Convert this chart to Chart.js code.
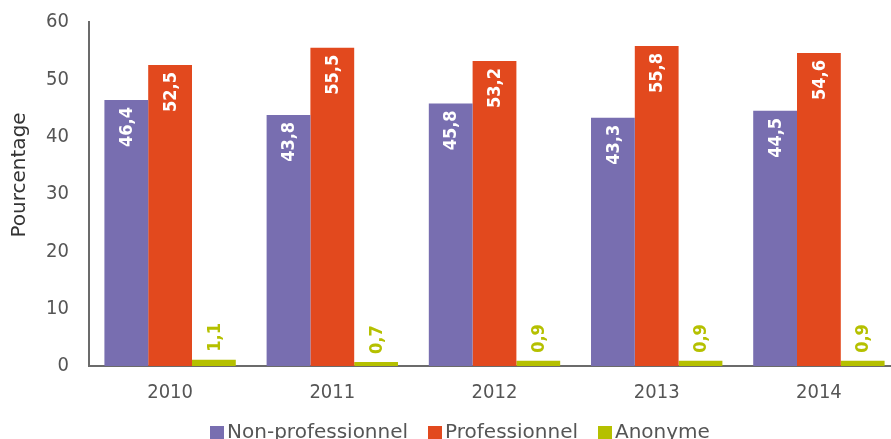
<!DOCTYPE html>
<html>
<head>
<meta charset="utf-8">
<script src="https://cdn.jsdelivr.net/npm/chart.js@4"></script>
<style>
  html, body { margin: 0; padding: 0; background: #fff; overflow: hidden; }
  #wrap { position: relative; width: 900px; height: 439px; }
  #legende {
    position: absolute; left: 0; top: 419px; width: 920px;
    display: flex; justify-content: center;
    font-family: 'DejaVu Sans', sans-serif; font-size: 20px; color: #555;
  }
  #legende span.item { display: flex; align-items: center; margin: 0 10px; white-space: nowrap; }
  #legende span.carre { display: inline-block; width: 14px; height: 14px; margin-right: 3px; margin-top: 3px; }
</style>
</head>
<body>
<div id="wrap">
  <canvas id="chart" width="900" height="439"></canvas>
  <div id="legende"></div>
</div>
<script>
const annees = ['2010', '2011', '2012', '2013', '2014'];
const nonPro = [46.4, 43.8, 45.8, 43.3, 44.5];
const pro = [52.5, 55.5, 53.2, 55.8, 54.6];
const anonyme = [1.1, 0.7, 0.9, 0.9, 0.9];
const ticksY = [0, 10, 20, 30, 40, 50, 60];

const police = "'DejaVu Sans Condensed', 'DejaVu Sans', sans-serif";

// étiquettes verticales sur les barres
const etiquettes = {
  id: 'etiquettes',
  afterDatasetsDraw(chart) {
    const ctx = chart.ctx;
    chart.data.datasets.forEach((ds, i) => {
      const meta = chart.getDatasetMeta(i);
      meta.data.forEach((bar, j) => {
        const txt = ds.data[j].toFixed(1).replace('.', ',');
        ctx.save();
        ctx.translate(bar.x, bar.y);
        ctx.rotate(-Math.PI / 2);
        ctx.font = 'bold 18px ' + police;
        ctx.textBaseline = 'middle';
        if (i < 2) {
          ctx.fillStyle = '#ffffff';
          ctx.textAlign = 'right';
          ctx.fillText(txt, -7, 1);
        } else {
          ctx.fillStyle = ds.backgroundColor;
          ctx.textAlign = 'left';
          ctx.fillText(txt, 8, 1);
        }
        ctx.restore();
      });
    });
  }
};

const graphique = new Chart(document.getElementById('chart'), {
  type: 'bar',
  data: {
    labels: annees,
    datasets: [
      { label: 'Non-professionnel', data: nonPro, backgroundColor: '#786eb0' },
      { label: 'Professionnel', data: pro, backgroundColor: '#e2491e' },
      { label: 'Anonyme', data: anonyme, backgroundColor: '#b5c000' }
    ]
  },
  options: {
    responsive: false,
    animation: false,
    layout: { padding: 0 },
    datasets: { bar: { barPercentage: 1, categoryPercentage: 0.81 } },
    plugins: {
      tooltip: { enabled: false },
      legend: { display: false }
    },
    scales: {
      x: {
        grid: { display: false, drawTicks: false },
        border: { color: '#6b6b6b', width: 2 },
        ticks: { color: '#555', padding: 15, font: { family: police, size: 20 } },
        afterFit(scale) { scale.height = 73; }
      },
      y: {
        min: 0,
        max: 60,
        afterBuildTicks(scale) { scale.ticks = ticksY.map(v => ({ value: v })); },
        grid: { display: false, drawTicks: false },
        border: { color: '#6b6b6b', width: 2 },
        ticks: { color: '#555', padding: 20, font: { family: police, size: 20 } },
        title: {
          display: true,
          // espaces en tête pour remonter le titre comme dans l'original
          text: '\u00a0\u00a0\u00a0\u00a0\u00a0\u00a0Pourcentage',
          color: '#333',
          padding: { top: 8, bottom: 0 },
          font: { family: "'DejaVu Sans', sans-serif", size: 20 }
        },
        afterFit(scale) {
          scale.width = 89;
          scale.paddingTop = 22;
        }
      }
    }
  },
  plugins: [etiquettes]
});

// légende en HTML sous le graphique
const legende = document.getElementById('legende');
graphique.data.datasets.forEach(ds => {
  const item = document.createElement('span');
  item.className = 'item';
  item.innerHTML = `<span class="carre" style="background:${ds.backgroundColor}"></span>${ds.label}`;
  legende.appendChild(item);
});
</script>
</body>
</html>
